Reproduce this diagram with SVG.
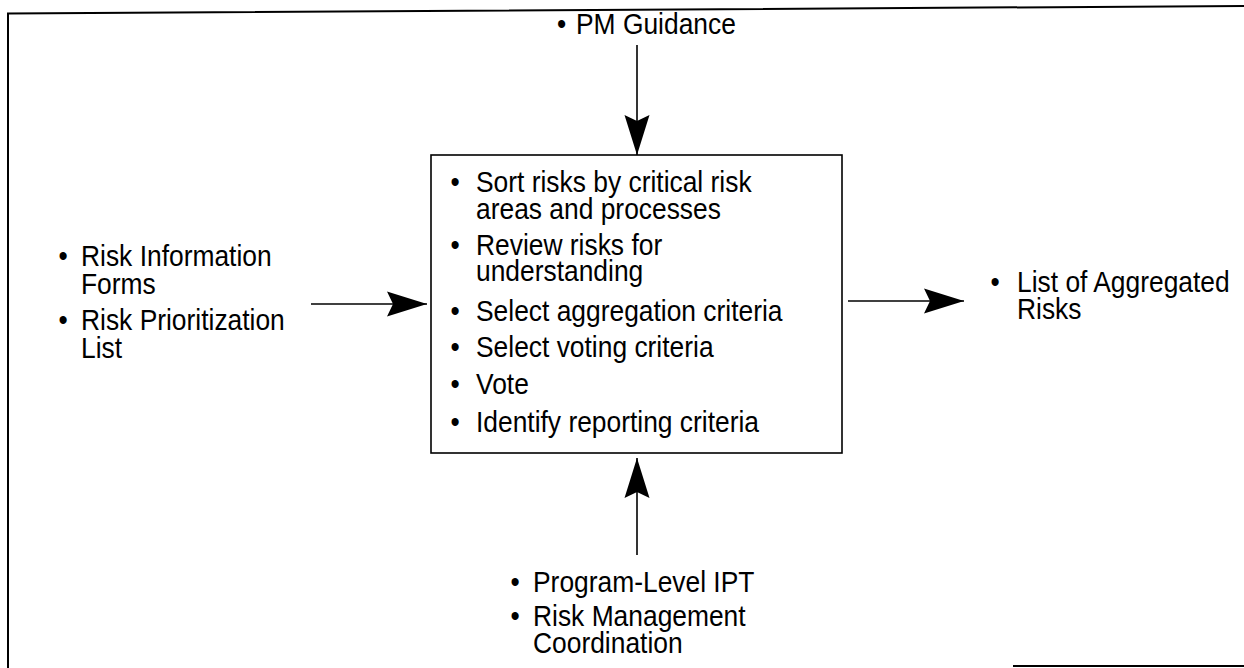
<svg xmlns="http://www.w3.org/2000/svg" width="1244" height="668" viewBox="0 0 1244 668">
<style>
text{font-family:"Liberation Sans",Arial,sans-serif;font-size:29px;fill:#000}
.frame{fill:none;stroke:#000;stroke-width:2}
.box{fill:#fff;stroke:#000;stroke-width:1.6}
.conn{stroke:#000;stroke-width:1.6;fill:none}
</style>
<defs>
<marker id="ah" markerUnits="userSpaceOnUse" viewBox="-41 -13 42 26" markerWidth="42" markerHeight="26" refX="0" refY="0" orient="auto">
<path d="M0,0 L-40,-12.5 L-34,0 L-40,12.5 Z" fill="#000"/>
</marker>
</defs>
<rect width="1244" height="668" fill="#fff"/>
<g id="frame">
<path class="frame" d="M8,668 L8,13.5 L1244,6"/>
<path class="frame" d="M1013,666 L1244,666"/>
</g>
<g id="connectors">
<line class="conn" x1="637" y1="45" x2="637" y2="155" marker-end="url(#ah)"/>
<line class="conn" x1="637" y1="555" x2="637" y2="458" marker-end="url(#ah)"/>
<line class="conn" x1="311" y1="304" x2="427" y2="304" marker-end="url(#ah)"/>
<line class="conn" x1="848" y1="301" x2="964" y2="301" marker-end="url(#ah)"/>
</g>
<g id="process">
<rect class="box" x="431" y="155" width="411" height="298"/>
<text transform="translate(450.5,192) scale(0.91,1)">•</text>
<text transform="translate(476,192) scale(0.91,1)">Sort risks by critical risk</text>
<text transform="translate(476,219) scale(0.91,1)">areas and processes</text>
<text transform="translate(450.5,255) scale(0.91,1)">•</text>
<text transform="translate(476,255) scale(0.91,1)">Review risks for</text>
<text transform="translate(476,281) scale(0.91,1)">understanding</text>
<text transform="translate(450.5,321) scale(0.91,1)">•</text>
<text transform="translate(476,321) scale(0.91,1)">Select aggregation criteria</text>
<text transform="translate(450.5,357) scale(0.91,1)">•</text>
<text transform="translate(476,357) scale(0.91,1)">Select voting criteria</text>
<text transform="translate(450.5,394) scale(0.91,1)">•</text>
<text transform="translate(476,394) scale(0.91,1)">Vote</text>
<text transform="translate(450.5,432) scale(0.91,1)">•</text>
<text transform="translate(476,432) scale(0.91,1)">Identify reporting criteria</text>
</g>
<g id="control">
<text transform="translate(557,34) scale(0.91,1)">•</text>
<text transform="translate(576,34) scale(0.91,1)">PM Guidance</text>
</g>
<g id="inputs">
<text transform="translate(58.5,266) scale(0.91,1)">•</text>
<text transform="translate(81,266) scale(0.91,1)">Risk Information</text>
<text transform="translate(81,294) scale(0.91,1)">Forms</text>
<text transform="translate(58.5,330) scale(0.91,1)">•</text>
<text transform="translate(81,330) scale(0.91,1)">Risk Prioritization</text>
<text transform="translate(81,358) scale(0.91,1)">List</text>
</g>
<g id="outputs">
<text transform="translate(990.5,292) scale(0.91,1)">•</text>
<text transform="translate(1017,292) scale(0.91,1)">List of Aggregated</text>
<text transform="translate(1017,319) scale(0.91,1)">Risks</text>
</g>
<g id="mechanisms">
<text transform="translate(510.5,592) scale(0.91,1)">•</text>
<text transform="translate(533,592) scale(0.91,1)">Program-Level IPT</text>
<text transform="translate(510.5,626) scale(0.91,1)">•</text>
<text transform="translate(533,626) scale(0.91,1)">Risk Management</text>
<text transform="translate(533,653) scale(0.91,1)">Coordination</text>
</g>
</svg>
